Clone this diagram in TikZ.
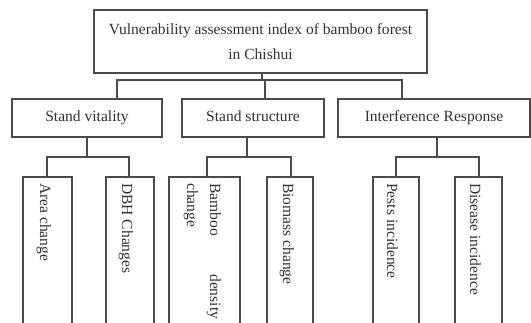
\documentclass[tikz,border=0pt]{standalone}
\usepackage{fontspec}
\setmainfont{Liberation Serif}
\definecolor{linec}{HTML}{4A4A4A}
\definecolor{textc}{HTML}{333333}
\begin{document}
\begin{tikzpicture}[x=1bp,y=-1bp,
  box/.style={draw=linec, line width=1.3bp, inner sep=0pt, rectangle},
  conn/.style={draw=linec, line width=1.3bp},
  lbl/.style={text=textc, font=\fontsize{15.6}{25}\selectfont},
  midbox/.style={box, lbl, text height=10.5bp, text depth=3.5bp, minimum height=38bp},
  vlbl/.style={lbl, inner sep=0pt, rotate=-90, anchor=base west}]
\useasboundingbox (0,0) rectangle (531,322);
\clip (0,0) rectangle (531,322);
\fill[white] (0,0) rectangle (531,322);
% level 1
\node[box, lbl, align=center, minimum width=333bp, minimum height=63bp] (top) at (260.5,41.5)
  {Vulnerability assessment index of bamboo forest\\in Chishui};
% level 2
\node[midbox, minimum width=150bp] (sv) at (87,118) {Stand vitality};
\node[midbox, minimum width=142bp] (st) at (253,118) {Stand structure};
\node[midbox, minimum width=192bp] (ir) at (434,118) {Interference Response};
% level 3 boxes
\node[box, minimum width=49bp, minimum height=170bp] (ac) at (47.5,262) {};
\node[box, minimum width=48bp, minimum height=170bp] (dbh) at (130,262) {};
\node[box, minimum width=71bp, minimum height=170bp] (bd) at (204.5,262) {};
\node[box, minimum width=46bp, minimum height=170bp] (bm) at (290,262) {};
\node[box, minimum width=46bp, minimum height=170bp] (pi) at (396,262) {};
\node[box, minimum width=47bp, minimum height=170bp] (di) at (478.5,262) {};
% level 3 labels
\node[vlbl] (acl) at (40,183) {Area change};
\node[vlbl] (dbhl) at (122,183) {DBH Changes};
\node[vlbl] (bdl1) at (210,183) {\makebox[136bp][s]{Bamboo density}};
\node[vlbl] (bdl2) at (187,183) {change};
\node[vlbl] (bml) at (283,183) {Biomass change};
\node[vlbl] (pil) at (387,183) {Pests incidence};
\node[vlbl] (dil) at (470,183) {Disease incidence};
% connectors level 1 -> 2
\coordinate (j1) at (117,80);
\coordinate (j2) at (265,80);
\coordinate (j3) at (402,80);
\draw[conn] (top.south -| 262,0) -- (262,80);
\draw[conn] (j1 |- sv.north) -- (j1) -- (j3) -- (j3 |- ir.north);
\draw[conn] (j2) -- (j2 |- st.north);
% connectors level 2 -> 3
\coordinate (a1) at (87,157);
\draw[conn] (a1 |- sv.south) -- (a1);
\draw[conn] (ac.north -| 47,0) -- (47,157) -- (129,157) -- (dbh.north -| 129,0);
\coordinate (b1) at (247,157);
\draw[conn] (b1 |- st.south) -- (b1);
\draw[conn] (bd.north -| 207,0) -- (207,157) -- (291,157) -- (bm.north -| 291,0);
\coordinate (c1) at (437,157);
\draw[conn] (c1 |- ir.south) -- (c1);
\draw[conn] (pi.north -| 396,0) -- (396,157) -- (479,157) -- (di.north -| 479,0);
\end{tikzpicture}
\end{document}
